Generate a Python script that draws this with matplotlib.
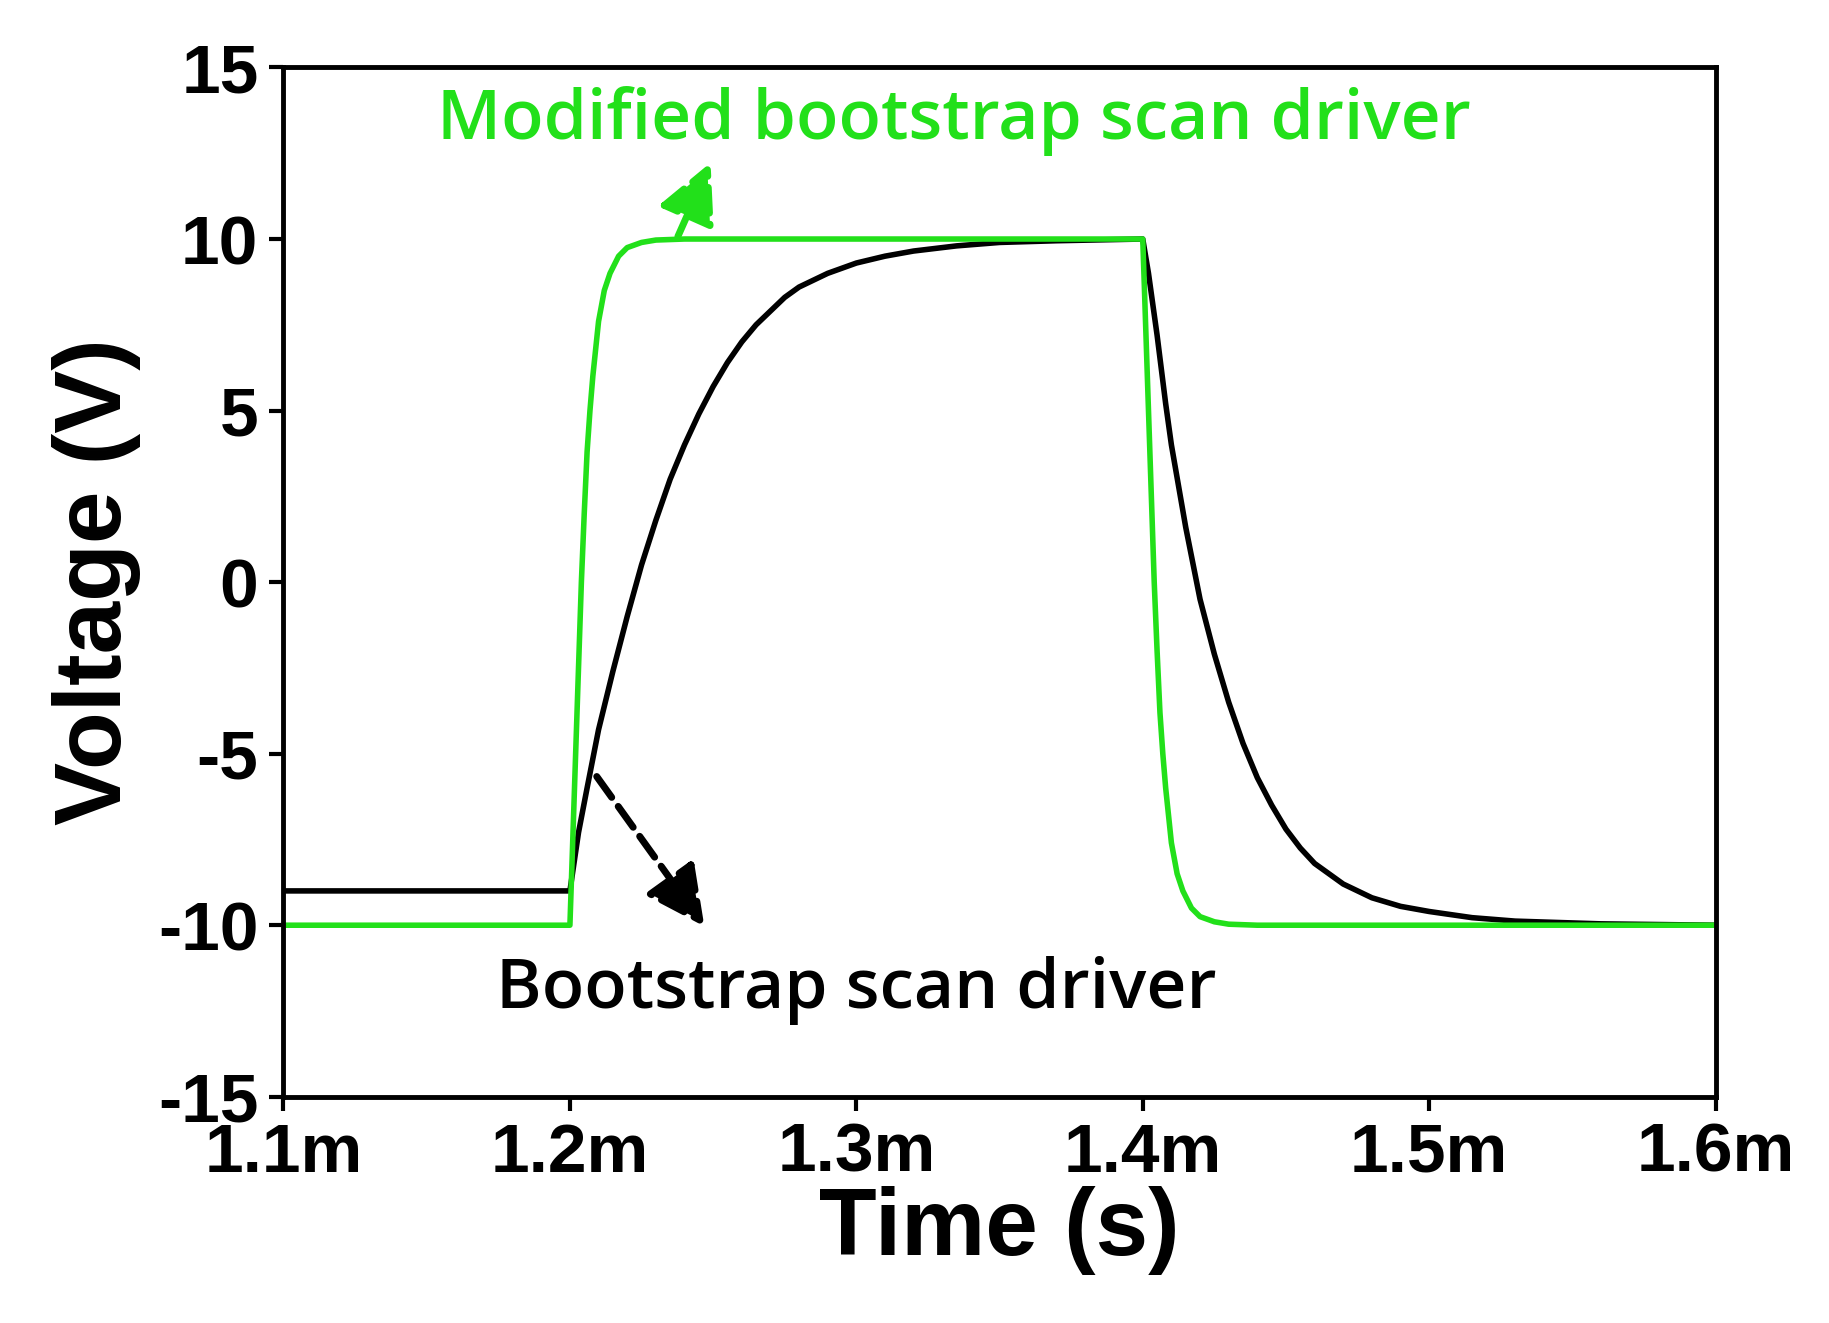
import numpy as np
import matplotlib.pyplot as plt

plt.rcParams['axes.unicode_minus'] = False

# time in ms, voltage in V
t_mod = [1.1, 1.2, 1.2, 1.201, 1.202, 1.203, 1.204, 1.205, 1.206, 1.207, 1.208,
         1.21, 1.212, 1.214, 1.217, 1.22, 1.225, 1.23, 1.24, 1.4,
         1.401, 1.402, 1.403, 1.404, 1.405, 1.406, 1.407, 1.408, 1.41,
         1.412, 1.414, 1.417, 1.42, 1.425, 1.43, 1.44, 1.6]
v_mod = [-10, -10, -10, -7.5, -5, -2.5, 0, 2, 3.8, 5, 6,
         7.6, 8.5, 9.0, 9.5, 9.75, 9.9, 9.97, 10, 10,
         7.5, 5, 2.5, 0, -2, -3.8, -5, -6, -7.6,
         -8.5, -9.0, -9.5, -9.75, -9.9, -9.97, -10, -10]

t_boot = [1.1, 1.2, 1.203, 1.206, 1.21, 1.215, 1.22, 1.225, 1.23, 1.235, 1.24,
          1.245, 1.25, 1.255, 1.26, 1.265, 1.27, 1.275, 1.28, 1.29, 1.3, 1.31,
          1.32, 1.335, 1.35, 1.37, 1.4,
          1.402, 1.405, 1.408, 1.41, 1.415, 1.42, 1.425, 1.43, 1.435, 1.44,
          1.445, 1.45, 1.455, 1.46, 1.47, 1.48, 1.49, 1.5, 1.515, 1.53, 1.56, 1.6]
v_boot = [-9, -9, -7.3, -6.0, -4.3, -2.6, -1.0, 0.5, 1.8, 3.0, 4.0,
          4.9, 5.7, 6.4, 7.0, 7.5, 7.9, 8.3, 8.6, 9.0, 9.3, 9.5,
          9.65, 9.8, 9.9, 9.95, 10,
          9.0, 7.2, 5.2, 4.0, 1.6, -0.5, -2.1, -3.5, -4.7, -5.7,
          -6.5, -7.2, -7.75, -8.2, -8.8, -9.2, -9.45, -9.6, -9.78, -9.88, -9.96, -10]

xticks = [1.1, 1.2, 1.3, 1.4, 1.5, 1.6]
xlabels = ['1.1m', '1.2m', '1.3m', '1.4m', '1.5m', '1.6m']
yticks = [-15, -10, -5, 0, 5, 10, 15]

green = '#22e01a'
fam = 'Liberation Sans'

fig = plt.figure(figsize=(18.29, 13.23), dpi=100)
ax = fig.add_axes([0.155, 0.171, 0.783, 0.778])
ax.plot(t_boot, v_boot, color='black', lw=4)
ax.plot(t_mod, v_mod, color=green, lw=4)
ax.set_xlim(1.1, 1.6)
ax.set_ylim(-15, 15)
ax.set_xticks(xticks)
ax.set_xticklabels(xlabels)
ax.set_yticks(yticks)
ax.tick_params(labelsize=50, width=3, length=10, direction='out', pad=8)
for lb in ax.get_xticklabels() + ax.get_yticklabels():
    lb.set_fontweight('bold')
    lb.set_family(fam)
for s in ax.spines.values():
    s.set_linewidth(3.5)
ax.set_xlabel('Time (s)', fontsize=68, fontweight='bold', family=fam, labelpad=0)
ax.set_ylabel('Voltage (V)', fontsize=68, fontweight='bold', family=fam, labelpad=12)

ax.annotate('', xy=(1.2495, 12.3), xytext=(1.2373, 10),
            arrowprops=dict(arrowstyle='-|>,head_width=0.45,head_length=0.9',
                            color=green, lw=5, linestyle='--', mutation_scale=40))
ax.annotate('', xy=(1.2475, -10.1), xytext=(1.2088, -5.6),
            arrowprops=dict(arrowstyle='-|>,head_width=0.45,head_length=0.9',
                            color='black', lw=5, linestyle='--', mutation_scale=40))
ax.text(1.334, 13.45, 'Modified bootstrap scan driver', color=green,
        fontsize=50, fontweight='semibold', family='Open Sans', ha='center', va='center')
ax.text(1.3, -11.9, 'Bootstrap scan driver', color='black',
        fontsize=50, fontweight='semibold', family='Open Sans', ha='center', va='center')

fig.savefig('out.png', dpi=100)
